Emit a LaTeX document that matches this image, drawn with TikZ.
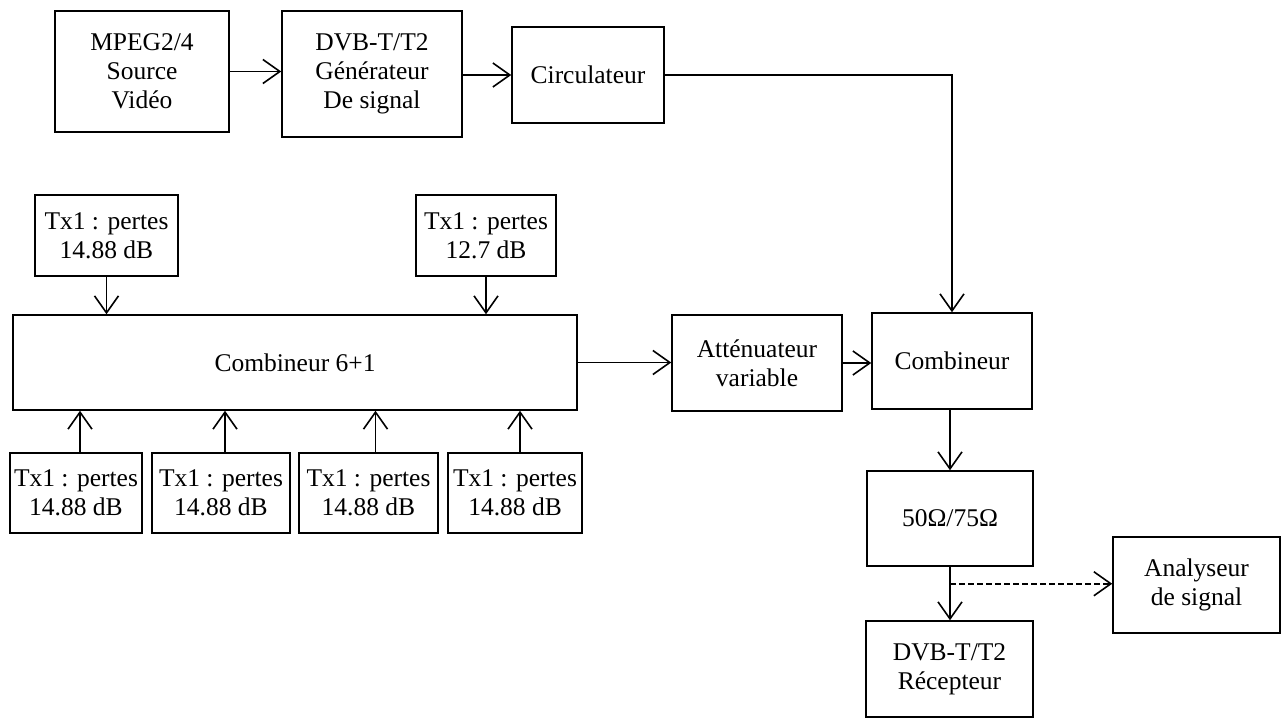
\documentclass[tikz,border=0pt]{standalone}
\usepackage{fontspec}
\setmainfont{Liberation Serif}
\usetikzlibrary{arrows.meta}
\begin{document}
\begin{tikzpicture}[x=1pt,y=-1pt,
  blk/.style={draw, line width=1.5pt, inner sep=0pt, align=center,
    font=\fontsize{25.5}{29}\selectfont},
  arr/.style={line width=1.6pt, -{Straight Barb[length=17pt,width=24pt,line width=1.6pt]}},
  ln/.style={line width=1.6pt}]
\useasboundingbox (0,0) rectangle (1285,722);
% top row
\node[blk, minimum width=174pt, minimum height=121pt] (mpeg) at (142,71.5) {MPEG2/4\\Source\\Vidéo};
\node[blk, minimum width=180pt, minimum height=126pt] (gen) at (372,74) {DVB-T/T2\\Générateur\\De signal};
\node[blk, minimum width=152pt, minimum height=96pt] (circ) at (588,75) {Circulateur};
% transmitters top
\node[blk, minimum width=143pt, minimum height=81pt] (ta) at (106.5,235.5) {Tx1 : pertes\\14.88 dB};
\node[blk, minimum width=140pt, minimum height=81pt] (tb) at (486,235.5) {Tx1 : pertes\\12.7 dB};
% combiner 6+1
\node[blk, minimum width=564pt, minimum height=95pt] (c61) at (295,362.5) {Combineur 6+1};
% bottom transmitters
\node[blk, minimum width=132pt, minimum height=80pt] (b1) at (76,493) {Tx1 : pertes\\14.88 dB};
\node[blk, minimum width=138pt, minimum height=80pt] (b2) at (221,493) {Tx1 : pertes\\14.88 dB};
\node[blk, minimum width=139pt, minimum height=80pt] (b3) at (368.5,493) {Tx1 : pertes\\14.88 dB};
\node[blk, minimum width=134pt, minimum height=80pt] (b4) at (515,493) {Tx1 : pertes\\14.88 dB};
% right chain
\node[blk, minimum width=170pt, minimum height=96pt] (att) at (757,363) {Atténuateur\\variable};
\node[blk, minimum width=160pt, minimum height=96pt] (comb) at (952,361) {Combineur};
\node[blk, minimum width=166pt, minimum height=95pt] (imp) at (950,518.5) {50Ω/75Ω};
\node[blk, minimum width=167pt, minimum height=96pt] (rec) at (949.5,669) {DVB-T/T2\\Récepteur};
\node[blk, minimum width=167pt, minimum height=96pt] (ana) at (1196.5,585) {Analyseur\\de signal};
% connectors
\draw[arr] (mpeg.east) -- (mpeg.east -| gen.west);
\draw[arr] (gen.east |- circ.west) -- (circ.west);
\draw[arr] (circ.east) -| (comb.north);
\draw[arr] (ta.south) -- (ta.south |- c61.north);
\draw[arr] (tb.south) -- (tb.south |- c61.north);
\draw[arr] ([xshift=4pt]b1.north) -- ([xshift=4pt]b1.north |- c61.south);
\draw[arr] ([xshift=4pt]b2.north) -- ([xshift=4pt]b2.north |- c61.south);
\draw[arr] ([xshift=7pt]b3.north) -- ([xshift=7pt]b3.north |- c61.south);
\draw[arr] ([xshift=5pt]b4.north) -- ([xshift=5pt]b4.north |- c61.south);
\draw[arr] (c61.east) -- (c61.east -| att.west);
\draw[arr] (att.east) -- (att.east -| comb.west);
\draw[arr] ([xshift=-2pt]comb.south) -- ([xshift=-2pt]comb.south |- imp.north);
\draw[arr] (imp.south) -- (imp.south |- rec.north);
\coordinate (tap) at ([yshift=-17pt]imp.south);
\draw[arr, dashed, dash pattern=on 6pt off 3pt] (tap) -- (tap -| ana.west);
\end{tikzpicture}
\end{document}
